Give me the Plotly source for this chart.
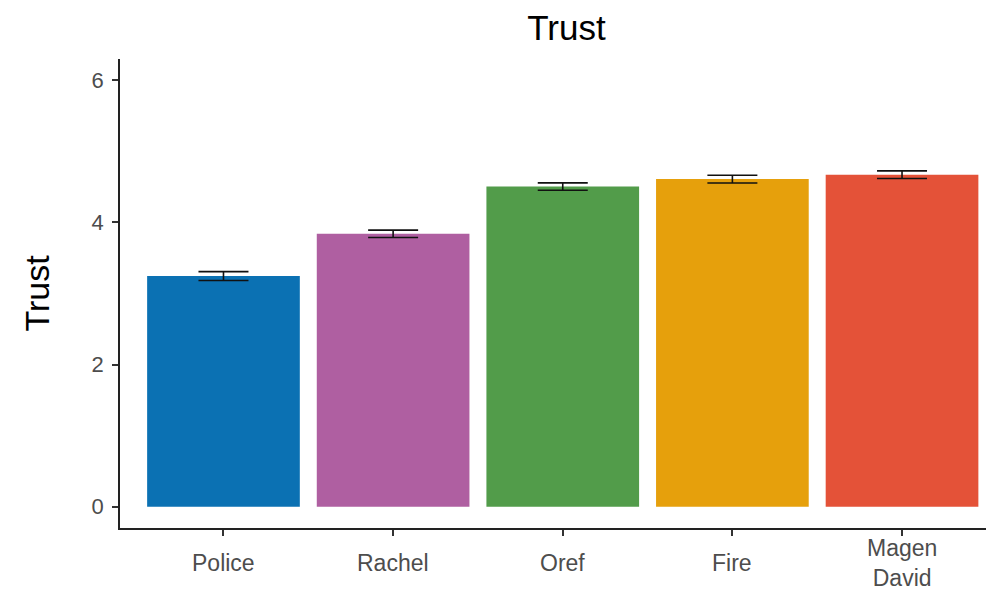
import plotly.graph_objects as go

categories = ["Police", "Rachel", "Oref", "Fire", "Magen David"]
tick_labels = ["Police", "Rachel", "Oref", "Fire", "Magen<br>David"]
trust_mean = [3.245, 3.84, 4.505, 4.61, 4.672]
trust_se = [0.063, 0.052, 0.052, 0.054, 0.053]
bar_colors = ["#0B71B3", "#AF5FA1", "#529C4A", "#E6A00C", "#E45238"]
y_ticks = [0, 2, 4, 6]

FONT = "Liberation Sans, Arial, Helvetica, sans-serif"
GREY = "#4D4D4D"

fig = go.Figure()
fig.add_trace(go.Bar(
    x=list(range(len(categories))),
    y=trust_mean,
    marker=dict(color=bar_colors, line=dict(width=0)),
    width=0.9,
    error_y=dict(type="data", array=trust_se, visible=True,
                 color="#111111", thickness=1.6, width=25),
    showlegend=False,
    hovertext=categories,
))

for i, lab in enumerate(tick_labels):
    fig.add_annotation(
        x=i, xref="x", y=-0.075, yref="paper",
        text=lab, showarrow=False, yanchor="middle", xanchor="center",
        font=dict(family=FONT, size=23, color=GREY),
    )

fig.update_layout(
    width=986, height=591,
    margin=dict(l=120, r=0, t=59, b=63),
    plot_bgcolor="white", paper_bgcolor="white",
    bargap=0.1,
    title=dict(text="Trust", x=0.5155, xref="paper", y=1 - 28 / 591, yref="container",
               xanchor="center", yanchor="middle",
               font=dict(family=FONT, size=35, color="#000000")),
    xaxis=dict(
        range=[-0.61, 4.495], tickmode="array",
        tickvals=list(range(len(categories))), ticktext=["" for _ in categories],
        showticklabels=False,
        ticks="outside", ticklen=6, tickwidth=1.5, tickcolor="#333333",
        showline=True, linecolor="#222222", linewidth=1.6,
        showgrid=False, zeroline=False, fixedrange=True,
    ),
    yaxis=dict(
        range=[-0.3, 6.3], tickmode="array", tickvals=y_ticks,
        ticktext=[str(v) for v in y_ticks],
        ticks="outside", ticklen=6, tickwidth=1.5, tickcolor="#333333",
        tickfont=dict(family=FONT, size=22, color=GREY),
        ticklabelstandoff=4,
        showline=True, linecolor="#222222", linewidth=1.6,
        showgrid=False, zeroline=False,
        title=dict(text="Trust", standoff=32,
                   font=dict(family=FONT, size=34, color="#000000")),
    ),
)

fig.write_html("out.html", config={"displayModeBar": False},
               post_script="document.body.style.margin='0';")
